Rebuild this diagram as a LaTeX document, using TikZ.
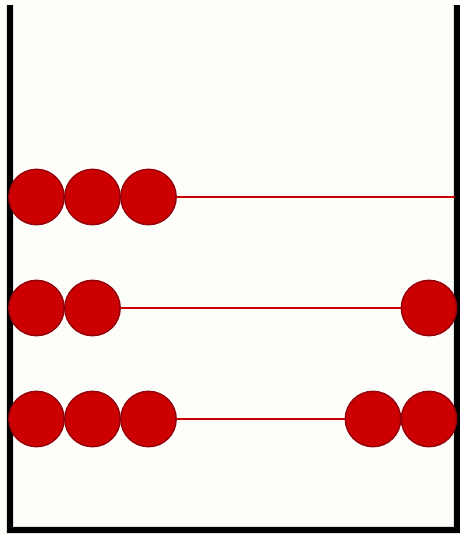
\documentclass[tikz,border=0pt]{standalone}
\usepackage{xcolor}
\usetikzlibrary{positioning}
\definecolor{BeadRed}{RGB}{204,0,0}
\definecolor{BeadEdge}{RGB}{150,0,10}
\definecolor{PaperWhite}{RGB}{253,253,249}
\begin{document}
\begin{tikzpicture}[x=0.75pt, y=-0.75pt, node distance=-0.6pt,
  bead/.style={circle, fill=BeadRed, draw=BeadEdge, line width=1.1pt, minimum size=41.5pt, inner sep=0pt},
  wire/.style={draw=BeadRed, line width=1.5pt},
  wall/.style={draw=black, line width=3.8pt},
  shade/.style={draw=black!12, line width=6.5pt}
]

% Frame
\fill[PaperWhite] (0,0) rectangle (460,535);
\useasboundingbox (0,0) rectangle (460,535);
\coordinate (tl) at (10,5);
\coordinate (bl) at (10,530);
\coordinate (br) at (457,530);
\coordinate (tr) at (457,5);
\draw[shade] (tl) -- (bl) -- (br) -- (tr);
\draw[wall] (tl) -- (bl) -- (br) -- (tr);

% Top row
\node[bead] (r1a) at (36.5,197) {};
\node[bead, right=of r1a] (r1b) {};
\node[bead, right=of r1b] (r1c) {};
\coordinate (r1end) at (455,197);

% Middle row
\node[bead] (r2a) at (36.5,308) {};
\node[bead, right=of r2a] (r2b) {};
\node[bead] (r2r) at (429,308) {};

% Bottom row
\node[bead] (r3a) at (36.5,419) {};
\node[bead, right=of r3a] (r3b) {};
\node[bead, right=of r3b] (r3c) {};
\node[bead] (r3t) at (429,419) {};
\node[bead, left=of r3t] (r3s) {};

% Wires
\draw[wire] (r1c.east) -- (r1end);
\draw[wire] (r2b.east) -- (r2r.west);
\draw[wire] (r3c.east) -- (r3s.west);

\end{tikzpicture}
\end{document}
